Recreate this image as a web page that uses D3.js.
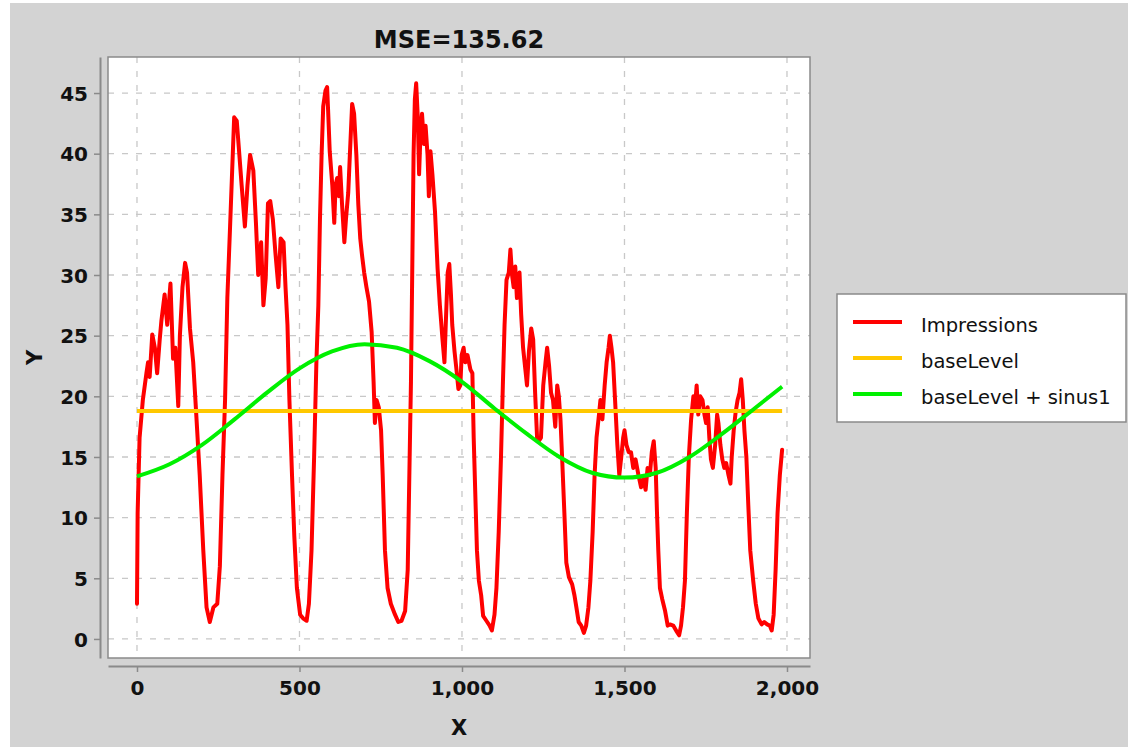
<!DOCTYPE html>
<html>
<head>
<meta charset="utf-8">
<script src="https://cdn.jsdelivr.net/npm/d3@7"></script>
<style>
  body { margin: 0; background: #fff; }
  text { font-family: "DejaVu Sans", sans-serif; }
</style>
</head>
<body>
<div id="chart"></div>
<script>
// Data

var title = "MSE=135.62";
var seriesNames = ["Impressions", "baseLevel", "baseLevel + sinus1"];
var seriesColors = ["#ff0000", "#ffc800", "#00f000"];

var xTicks = [0, 500, 1000, 1500, 2000];
var yTicks = [0, 5, 10, 15, 20, 25, 30, 35, 40, 45];

// Impressions
var impX = [0, 2, 8, 18, 29, 34, 39, 47, 55, 62, 70, 75, 85, 93, 103, 111, 118, 127, 132, 140,
  148, 154, 163, 173, 183, 193, 204, 214, 224, 235, 247, 255, 263, 271, 278, 286, 292, 299, 307, 315,
  322, 332, 340, 348, 358, 366, 373, 382, 389, 396, 403, 410, 418, 426, 435, 442, 451, 457, 463, 469,
  477, 484, 492, 502, 511, 522, 529, 537, 545, 552, 558, 563, 568, 573, 580, 585, 588, 593, 601, 607,
  611, 616, 621, 625, 631, 638, 643, 650, 655, 662, 668, 675, 681, 687, 693, 699, 706, 714, 722, 728,
  732, 737, 744, 751, 756, 763, 771, 781, 794, 804, 814, 825, 833, 838, 843, 847, 851, 855, 859, 864,
  868, 872, 877, 883, 888, 894, 898, 903, 909, 917, 925, 932, 940, 946, 950, 956, 961, 966, 970, 977,
  983, 989, 995, 999, 1005, 1010, 1017, 1026, 1032, 1036, 1041, 1046, 1052, 1059, 1065, 1075, 1085, 1092, 1100, 1106,
  1113, 1120, 1126, 1131, 1137, 1144, 1149, 1154, 1159, 1164, 1169, 1177, 1182, 1188, 1195, 1200, 1206, 1213, 1219, 1225,
  1231, 1236, 1243, 1250, 1257, 1262, 1268, 1274, 1280, 1287, 1293, 1298, 1303, 1308, 1315, 1321, 1329, 1339, 1346, 1352,
  1359, 1367, 1375, 1382, 1389, 1395, 1402, 1408, 1414, 1420, 1426, 1432, 1439, 1445, 1451, 1455, 1460, 1465, 1471, 1478,
  1484, 1490, 1496, 1500, 1506, 1513, 1520, 1527, 1534, 1543, 1551, 1558, 1565, 1571, 1578, 1584, 1590, 1596, 1600, 1604,
  1609, 1616, 1625, 1633, 1640, 1650, 1661, 1668, 1674, 1680, 1686, 1692, 1698, 1705, 1712, 1717, 1722, 1727, 1733, 1740,
  1746, 1751, 1756, 1761, 1766, 1772, 1779, 1785, 1789, 1795, 1801, 1807, 1813, 1820, 1826, 1830, 1836, 1842, 1848, 1854,
  1859, 1864, 1869, 1875, 1881, 1887, 1896, 1904, 1912, 1922, 1930, 1939, 1947, 1953, 1959, 1965, 1971, 1978, 1985];
var impY = [2.9, 10.4, 16.6, 19.7, 21.9, 22.8, 21.6, 25.1, 24.0, 21.9, 24.7, 26.2, 28.4, 25.9, 29.3, 23.1, 24.0, 19.2, 25.0, 29.0,
  31.0, 30.2, 25.6, 22.8, 18.2, 13.5, 7.3, 2.6, 1.4, 2.6, 2.9, 6.0, 13.5, 19.7, 28.1, 33.7, 38.0, 43.0, 42.7, 39.9,
  37.4, 34.0, 37.4, 39.9, 38.6, 34.3, 30.0, 32.7, 27.5, 29.7, 35.9, 36.1, 34.6, 31.8, 29.0, 33.0, 32.7, 29.0, 25.9, 19.7,
  13.5, 8.5, 4.2, 2.0, 1.7, 1.5, 2.9, 7.3, 15.0, 22.8, 27.5, 34.6, 39.9, 43.9, 45.2, 45.5, 43.6, 40.2, 37.4, 34.3,
  37.4, 38.0, 36.5, 38.9, 35.8, 32.7, 34.6, 36.8, 39.9, 44.1, 43.3, 39.9, 35.8, 33.0, 31.5, 30.2, 29.0, 27.8, 25.3, 21.2,
  17.8, 19.7, 19.1, 17.2, 13.5, 7.3, 4.2, 2.9, 2.0, 1.4, 1.5, 2.3, 5.7, 13.5, 21.2, 30.5, 39.9, 44.5, 45.8, 43.0,
  38.3, 41.4, 43.3, 40.8, 42.3, 39.9, 36.5, 40.2, 38.3, 35.2, 30.5, 27.5, 24.7, 22.8, 25.9, 30.2, 30.9, 28.4, 25.9, 23.7,
  22.2, 20.6, 20.9, 23.4, 24.0, 22.8, 23.4, 22.2, 21.9, 16.6, 11.9, 7.3, 4.8, 3.6, 1.9, 1.5, 1.1, 0.7, 2.0, 4.2,
  8.8, 15.0, 21.2, 25.9, 29.6, 30.2, 32.1, 30.0, 29.0, 30.7, 28.1, 30.2, 26.8, 24.0, 22.2, 20.9, 23.7, 25.6, 24.7, 20.3,
  16.6, 16.3, 16.6, 20.9, 22.8, 24.0, 22.5, 20.3, 19.7, 17.5, 20.9, 20.0, 18.1, 15.0, 10.4, 6.3, 5.1, 4.5, 3.6, 2.6,
  1.4, 1.1, 0.5, 1.1, 2.6, 4.8, 8.8, 13.5, 16.6, 18.1, 19.7, 18.1, 20.9, 22.8, 24.0, 25.0, 24.0, 22.8, 19.7, 16.0,
  13.5, 15.0, 16.6, 17.2, 16.0, 15.4, 15.4, 14.1, 14.8, 13.5, 12.5, 13.2, 12.3, 14.1, 13.5, 15.4, 16.3, 14.1, 10.4, 7.3,
  4.2, 3.3, 2.3, 1.1, 1.2, 1.1, 0.6, 0.3, 1.1, 2.6, 4.8, 10.4, 15.0, 18.1, 20.0, 19.1, 20.9, 18.5, 20.0, 19.7,
  18.5, 17.8, 19.1, 16.6, 14.8, 14.1, 16.0, 18.5, 17.8, 16.0, 14.8, 14.1, 14.5, 13.5, 12.8, 15.0, 17.2, 18.7, 19.7, 20.3,
  21.4, 19.7, 17.2, 15.0, 11.0, 7.3, 4.8, 2.9, 1.7, 1.2, 1.4, 1.2, 1.1, 0.7, 2.0, 5.7, 10.4, 13.5, 15.6];

// baseLevel
var baseX = [0, 1985];
var baseY = [18.8, 18.8];

// baseLevel + sinus1
var sinX = [0, 100, 200, 300, 400, 500, 600, 700, 800, 900, 1000, 1100, 1200, 1300, 1400, 1500, 1600, 1700, 1800, 1900, 1985];
var sinY = [13.4, 14.4, 16.0, 18.1, 20.3, 22.3, 23.7, 24.3, 24.0, 22.9, 21.2, 19.0, 16.9, 15.0, 13.7, 13.3, 13.7, 15.0, 16.9, 19.0, 20.8];

var W = 1128, H = 747;
var plot = {left: 108, top: 57, right: 810, bottom: 658};
var axisGap = 8;

var x = d3.scaleLinear()
    .domain([-89.2, 2070.8])
    .range([plot.left, plot.right]);

var y = d3.scaleLinear()
    .domain([-1.57, 47.97])
    .range([plot.bottom, plot.top]);

var svg = d3.select("#chart").append("svg")
    .attr("width", W)
    .attr("height", H);

// grey chart background
svg.append("rect")
    .attr("x", 10).attr("y", 3)
    .attr("width", W - 10).attr("height", H - 3)
    .attr("fill", "#d3d3d3");

svg.append("defs").append("clipPath")
    .attr("id", "clip")
    .append("rect")
    .attr("x", plot.left).attr("y", plot.top)
    .attr("width", plot.right - plot.left)
    .attr("height", plot.bottom - plot.top);

// plot area
svg.append("rect")
    .attr("x", plot.left).attr("y", plot.top)
    .attr("width", plot.right - plot.left)
    .attr("height", plot.bottom - plot.top)
    .attr("fill", "#fff");

// dashed grid
var grid = svg.append("g").attr("class", "grid")
    .attr("stroke", "#c8c8c8")
    .attr("stroke-width", 1.3)
    .attr("stroke-dasharray", "6,8");

grid.selectAll(".vgrid")
    .data(xTicks)
    .enter().append("line")
    .attr("x1", function(d) { return x(d); })
    .attr("x2", function(d) { return x(d); })
    .attr("y1", plot.top)
    .attr("y2", plot.bottom);

grid.selectAll(".hgrid")
    .data(yTicks)
    .enter().append("line")
    .attr("y1", function(d) { return y(d); })
    .attr("y2", function(d) { return y(d); })
    .attr("x1", plot.left)
    .attr("x2", plot.right);

// series
function pts(xs, ys) {
  return xs.map(function(d, i) { return [d, ys[i]]; });
}

var line = d3.line()
    .x(function(d) { return x(d[0]); })
    .y(function(d) { return y(d[1]); });

var smooth = d3.line()
    .curve(d3.curveMonotoneX)
    .x(function(d) { return x(d[0]); })
    .y(function(d) { return y(d[1]); });

var series = svg.append("g").attr("clip-path", "url(#clip)");

series.append("path")
    .datum(pts(impX, impY))
    .attr("fill", "none")
    .attr("stroke", seriesColors[0])
    .attr("stroke-width", 4)
    .attr("stroke-linejoin", "round")
    .attr("stroke-linecap", "round")
    .attr("d", line);

series.append("path")
    .datum(pts(baseX, baseY))
    .attr("fill", "none")
    .attr("stroke", seriesColors[1])
    .attr("stroke-width", 4)
    .attr("d", line);

series.append("path")
    .datum(pts(sinX, sinY))
    .attr("fill", "none")
    .attr("stroke", seriesColors[2])
    .attr("stroke-width", 4)
    .attr("d", smooth);

// plot outline
svg.append("rect")
    .attr("x", plot.left).attr("y", plot.top)
    .attr("width", plot.right - plot.left)
    .attr("height", plot.bottom - plot.top)
    .attr("fill", "none")
    .attr("stroke", "#8a8a8a")
    .attr("stroke-width", 1.5);

// axes
var xAxis = d3.axisBottom(x)
    .tickValues(xTicks)
    .tickSize(6)
    .tickSizeOuter(0)
    .tickPadding(9)
    .tickFormat(d3.format(","));

var yAxis = d3.axisLeft(y)
    .tickValues(yTicks)
    .tickSize(6)
    .tickSizeOuter(0)
    .tickPadding(6);

var gx = svg.append("g")
    .attr("transform", "translate(0," + (plot.bottom + axisGap) + ")")
    .call(xAxis);

var gy = svg.append("g")
    .attr("transform", "translate(" + (plot.left - axisGap) + ",0)")
    .call(yAxis);

[gx, gy].forEach(function(g) {
  g.select(".domain").attr("stroke", "#8a8a8a").attr("stroke-width", 2);
  g.selectAll(".tick line").attr("stroke", "#8a8a8a").attr("stroke-width", 1.5);
  g.selectAll(".tick text")
      .attr("fill", "#111")
      .style("font-family", "'DejaVu Sans', sans-serif")
      .style("font-size", "20px")
      .style("font-weight", "bold");
});
gy.selectAll(".tick text").attr("dy", "0.36em");

// title and axis labels
svg.append("text")
    .attr("x", (plot.left + plot.right) / 2)
    .attr("y", 48)
    .attr("text-anchor", "middle")
    .style("font-size", "24px")
    .style("font-weight", "bold")
    .attr("fill", "#111")
    .text(title);

svg.append("text")
    .attr("x", (plot.left + plot.right) / 2)
    .attr("y", 735)
    .attr("text-anchor", "middle")
    .style("font-size", "21px")
    .style("font-weight", "bold")
    .attr("fill", "#111")
    .text("X");

svg.append("text")
    .attr("transform", "translate(42," + ((plot.top + plot.bottom) / 2) + ") rotate(-90)")
    .attr("text-anchor", "middle")
    .style("font-size", "21px")
    .style("font-weight", "bold")
    .attr("fill", "#111")
    .text("Y");

// legend
var legend = svg.append("g").attr("class", "legend");

legend.append("rect")
    .attr("x", 837).attr("y", 294)
    .attr("width", 289).attr("height", 128)
    .attr("fill", "#fff")
    .attr("stroke", "#8a8a8a")
    .attr("stroke-width", 1.5);

var rows = legend.selectAll(".row")
    .data(seriesNames)
    .enter().append("g")
    .attr("transform", function(d, i) { return "translate(0," + (322 + i * 36) + ")"; });

rows.append("line")
    .attr("x1", 853).attr("x2", 902)
    .attr("stroke", function(d, i) { return seriesColors[i]; })
    .attr("stroke-width", 4);

rows.append("text")
    .attr("x", 921)
    .attr("y", 10)
    .style("font-size", "19.5px")
    .attr("fill", "#111")
    .text(function(d) { return d; });
</script>
</body>
</html>
